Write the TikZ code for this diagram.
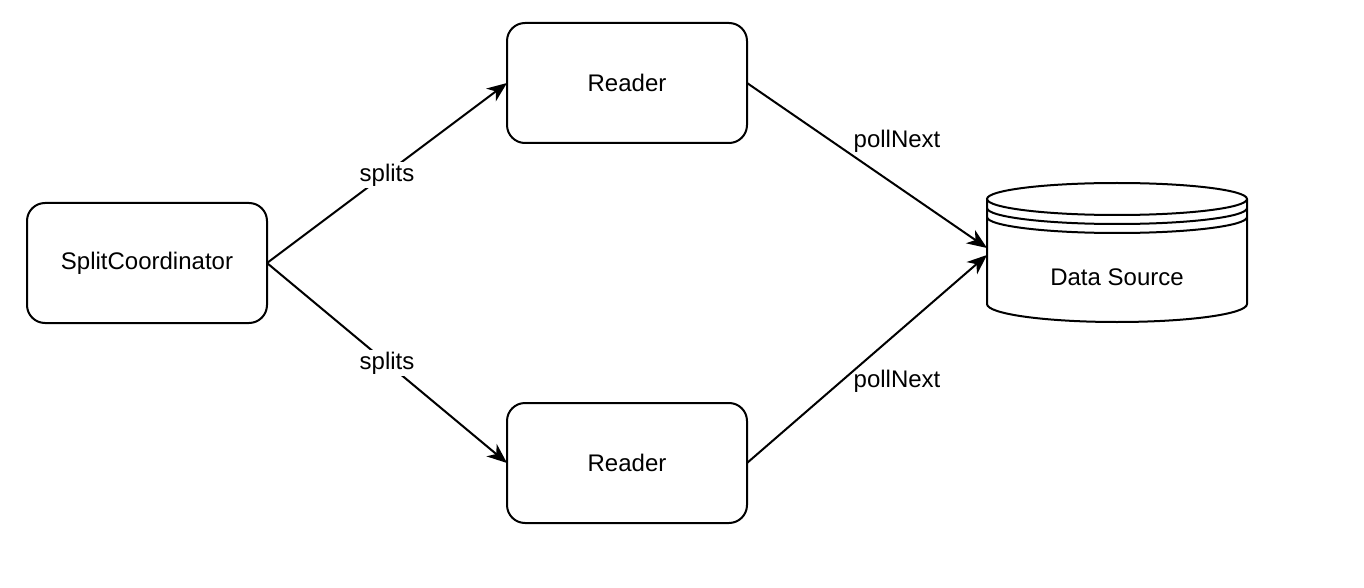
\documentclass[tikz,border=0pt]{standalone}
\usepackage{fontspec}
\setmainfont{Liberation Sans}
\usetikzlibrary{arrows.meta}

\begin{document}
\begin{tikzpicture}[x=0.5pt,y=-0.5pt,
		  font=\fontsize{12pt}{14pt}\selectfont,
		  box/.style={draw,line width=1pt,rounded corners=9pt,minimum width=120pt,minimum height=60pt,inner sep=0pt,outer sep=0pt},
		  conn/.style={line width=1pt,-{Stealth[length=10pt,width=8pt,inset=3pt]}},
		  lbl/.style={fill=white,inner sep=1pt}]
		  \useasboundingbox (0,0) rectangle (1364,588);
		  \node[box] (coord) at (147,263) {SplitCoordinator};
		  \node[box] (readerA) at (627,83) {Reader};
		  \node[box] (readerB) at (627,463) {Reader};
		  \begin{scope}[line width=1pt]
		    \draw (987,199) -- (987,304) arc[start angle=180,end angle=360,x radius=65pt,y radius=9pt] -- (1247,199);
		    \draw (1117,199) ellipse [x radius=65pt,y radius=8pt];
		    \draw (987,208) arc[start angle=180,end angle=360,x radius=65pt,y radius=8pt];
		    \draw (987,217) arc[start angle=180,end angle=360,x radius=65pt,y radius=8pt];
		  \end{scope}
		  \node (source) at (1117,277) {Data Source};
		  \coordinate (sourceA) at (987,248);
		  \coordinate (sourceB) at (987,255);
		  \draw[conn] (coord.east) -- (readerA.west) node[lbl,midway,yshift=-1pt] {splits};
		  \draw[conn] (coord.east) -- (readerB.west) node[lbl,midway] {splits};
		  \draw[conn] (readerA.east) -- (sourceA) node[pos=0.625,yshift=22.5pt] {pollNext};
		  \draw[conn] (readerB.east) -- (sourceB) node[pos=0.625,yshift=-24pt] {pollNext};
\end{tikzpicture}
\end{document}
